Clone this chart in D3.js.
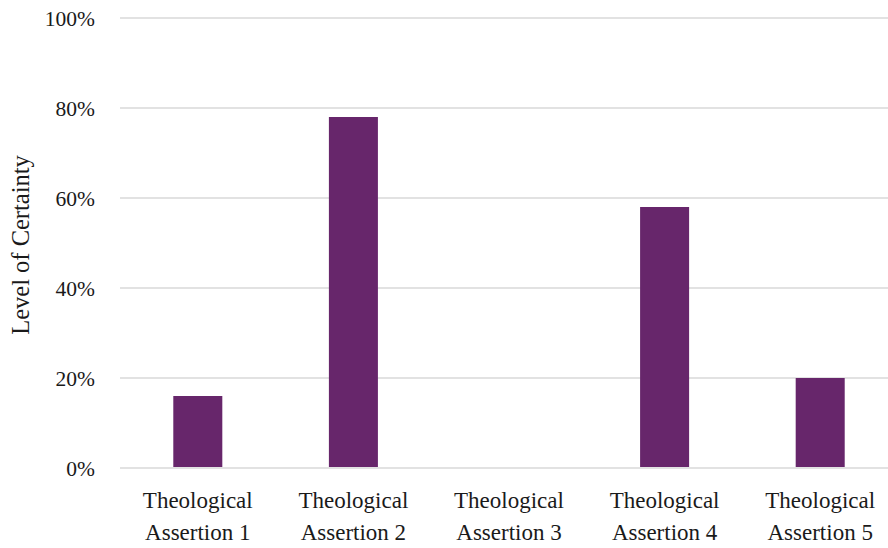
<!DOCTYPE html>
<html>
<head>
<meta charset="utf-8">
<script src="https://cdn.jsdelivr.net/npm/d3@7/dist/d3.min.js"></script>
<style>
  html, body { margin: 0; padding: 0; background: #fff; }
  svg { display: block; }
  text { font-family: "Liberation Serif", "DejaVu Serif", serif; fill: #1a1a1a; }
</style>
</head>
<body>
<svg id="chart" width="888" height="548"></svg>
<script>
const categories = ["Theological Assertion 1", "Theological Assertion 2", "Theological Assertion 3", "Theological Assertion 4", "Theological Assertion 5"];
const values = [0.16, 0.78, 0, 0.58, 0.20];
const yTicks = [0, 0.2, 0.4, 0.6, 0.8, 1.0];
const yTitle = "Level of Certainty";

const W = 888, H = 548;
const margin = { left: 120, top: 18, bottom: 80 };
const plotRight = 898;
const svg = d3.select("#chart");

const x = d3.scaleBand().domain(categories).range([margin.left, plotRight])
  .paddingInner(0.685).paddingOuter(0.3425);
const y = d3.scaleLinear().domain([0, 1]).range([468, margin.top]);

// gridlines
svg.append("g").selectAll("line").data(yTicks).join("line")
  .attr("x1", margin.left).attr("x2", W)
  .attr("y1", d => y(d)).attr("y2", d => y(d))
  .attr("stroke", "#d9d9d9").attr("stroke-width", 1.5);

// y tick labels
svg.append("g").selectAll("text").data(yTicks).join("text")
  .attr("x", 95).attr("y", d => y(d)).attr("dy", "0.35em")
  .attr("text-anchor", "end").style("font-size", "21.5px")
  .text(d => d3.format(".0%")(d));

// bars
svg.append("g").selectAll("rect").data(values).join("rect")
  .attr("x", (d, i) => x(categories[i]))
  .attr("width", x.bandwidth())
  .attr("y", d => y(d))
  .attr("height", d => y(0) - y(d) - 1)
  .attr("fill", "#67266b");

// x labels (two lines)
const xl = svg.append("g").selectAll("text").data(categories).join("text")
  .attr("text-anchor", "middle").style("font-size", "23px")
  .attr("x", d => x(d) + x.bandwidth() / 2);
xl.each(function(d) {
  const parts = d.split(" ");
  const t = d3.select(this);
  t.append("tspan").attr("x", x(d) + x.bandwidth() / 2).attr("y", 508).text(parts[0]);
  t.append("tspan").attr("x", x(d) + x.bandwidth() / 2).attr("y", 540).text(parts.slice(1).join(" "));
});

// y title
svg.append("text")
  .attr("transform", "translate(29," + 245 + ") rotate(-90)")
  .attr("text-anchor", "middle").style("font-size", "24.5px")
  .text(yTitle);
</script>
</body>
</html>
